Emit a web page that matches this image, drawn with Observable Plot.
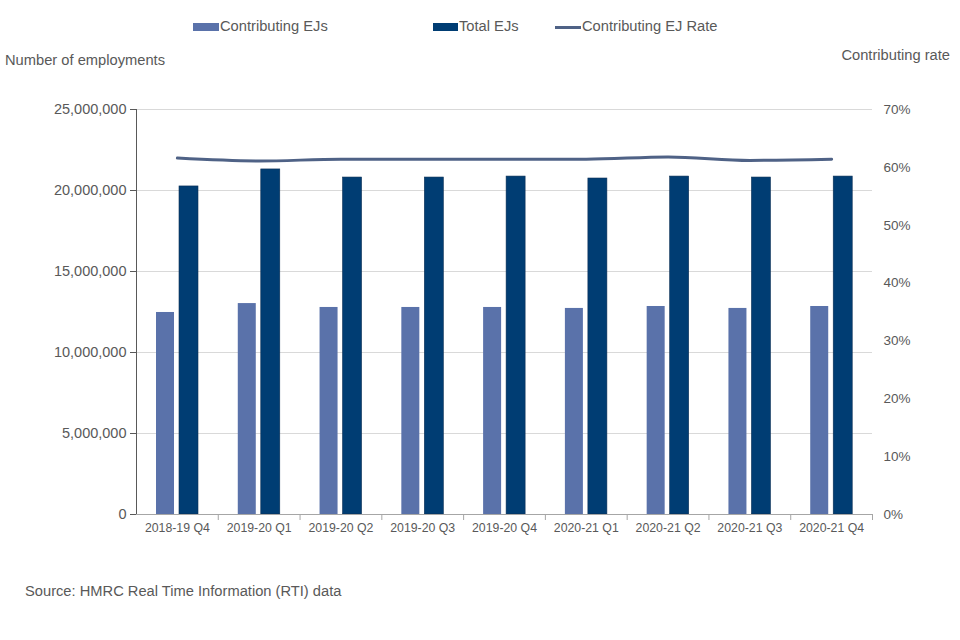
<!DOCTYPE html>
<html>
<head>
<meta charset="utf-8">
<script src="https://cdn.jsdelivr.net/npm/d3@7"></script>
<script src="https://cdn.jsdelivr.net/npm/@observablehq/plot@0.6"></script>
<style>
  body { margin: 0; background: #fff; font-family: "Liberation Sans", Arial, sans-serif; color: #595959; }
  #wrap { position: relative; width: 960px; height: 640px; overflow: hidden; }
  .abs { position: absolute; white-space: nowrap; font-size: 14.7px; color: #595959; }
  .sw { position: absolute; }
  #chart { position: absolute; left: 0; top: 80px; }
</style>
</head>
<body>
<div id="wrap">
  <div class="sw" style="left:193px;top:23px;width:26px;height:8px;background:#5a72aa"></div>
  <div class="abs" style="left:220px;top:18px">Contributing EJs</div>
  <div class="sw" style="left:433px;top:23px;width:25px;height:8px;background:#003d73"></div>
  <div class="abs" style="left:459px;top:18px">Total EJs</div>
  <div class="sw" style="left:555px;top:26px;width:26px;height:3px;background:#4f6286"></div>
  <div class="abs" style="left:582px;top:18px">Contributing EJ Rate</div>
  <div class="abs" style="left:5px;top:52px">Number of employments</div>
  <div class="abs" style="right:10px;top:47px">Contributing rate</div>
  <div id="chart"></div>
  <div class="abs" style="left:25px;top:583px">Source: HMRC Real Time Information (RTI) data</div>
</div>
<script>
const quarters = ["2018-19 Q4","2019-20 Q1","2019-20 Q2","2019-20 Q3","2019-20 Q4","2020-21 Q1","2020-21 Q2","2020-21 Q3","2020-21 Q4"];
const contributingEJs = [12470000, 13020000, 12780000, 12780000, 12780000, 12720000, 12840000, 12720000, 12840000];
const totalEJs = [20250000, 21300000, 20800000, 20800000, 20860000, 20740000, 20860000, 20800000, 20860000];
const contributingRate = [61.6, 61.1, 61.4, 61.4, 61.4, 61.4, 61.8, 61.2, 61.4];
const leftTicks = [0, 5000000, 10000000, 15000000, 20000000, 25000000];
const rightTicks = [0, 10, 20, 30, 40, 50, 60, 70];
const leftMax = 25000000, rightMax = 70;
const toLeft = r => r * leftMax / rightMax;

const rows = quarters.map((q, i) => ({q, c: contributingEJs[i], t: totalEJs[i], r: contributingRate[i]}));

const W = 960, H = 470, mL = 136, mR = 88, mT = 29, mB = 36;
const band = (W - mL - mR) / quarters.length;

const chart = Plot.plot({
  width: W, height: H,
  marginLeft: mL, marginRight: mR, marginTop: mT, marginBottom: mB,
  style: {fontFamily: "Liberation Sans, Arial, sans-serif", color: "#595959", background: "#fff"},
  x: {domain: quarters, padding: 0, round: false, axis: null, label: null},
  y: {domain: [0, leftMax], axis: null, label: null},
  marks: [
    Plot.gridY(leftTicks, {stroke: "#d9d9d9", strokeOpacity: 1}),
    Plot.barY(rows, {x: "q", y: "c", fill: "#5a72aa", insetLeft: 20, insetRight: band - 38}),
    Plot.barY(rows, {x: "q", y: "t", fill: "#003d73", stroke: "#0b2f55", strokeWidth: 0.6, insetLeft: 43, insetRight: band - 62}),
    Plot.line(rows, {x: "q", y: d => toLeft(d.r), stroke: "#4f6286", strokeWidth: 3, curve: "monotone-x"}),
    Plot.frame({anchor: "left", stroke: "#595959"}),
    Plot.ruleY([0], {stroke: "#a6a6a6"}),
    Plot.axisY(leftTicks, {anchor: "left", label: null, tickSize: 6, tickPadding: 4, stroke: "#595959", fontSize: 14.5, fill: "#595959", tickFormat: d => d3.format(",")(d)}),
    Plot.axisY(rightTicks.map(toLeft), {anchor: "right", label: null, tickSize: 0, tickPadding: 11, fontSize: 13.5, fill: "#595959", tickFormat: d => Math.round(d * rightMax / leftMax) + "%"}),
    Plot.axisX(quarters, {anchor: "bottom", label: null, tickSize: 0, tickPadding: 9, fontSize: 12.3, fill: "#595959"}),
    Plot.axisX(quarters, {anchor: "bottom", label: null, tickSize: 6, text: null, dx: band / 2, stroke: "#a6a6a6"})
  ]
});
document.getElementById("chart").appendChild(chart);
</script>
</body>
</html>
